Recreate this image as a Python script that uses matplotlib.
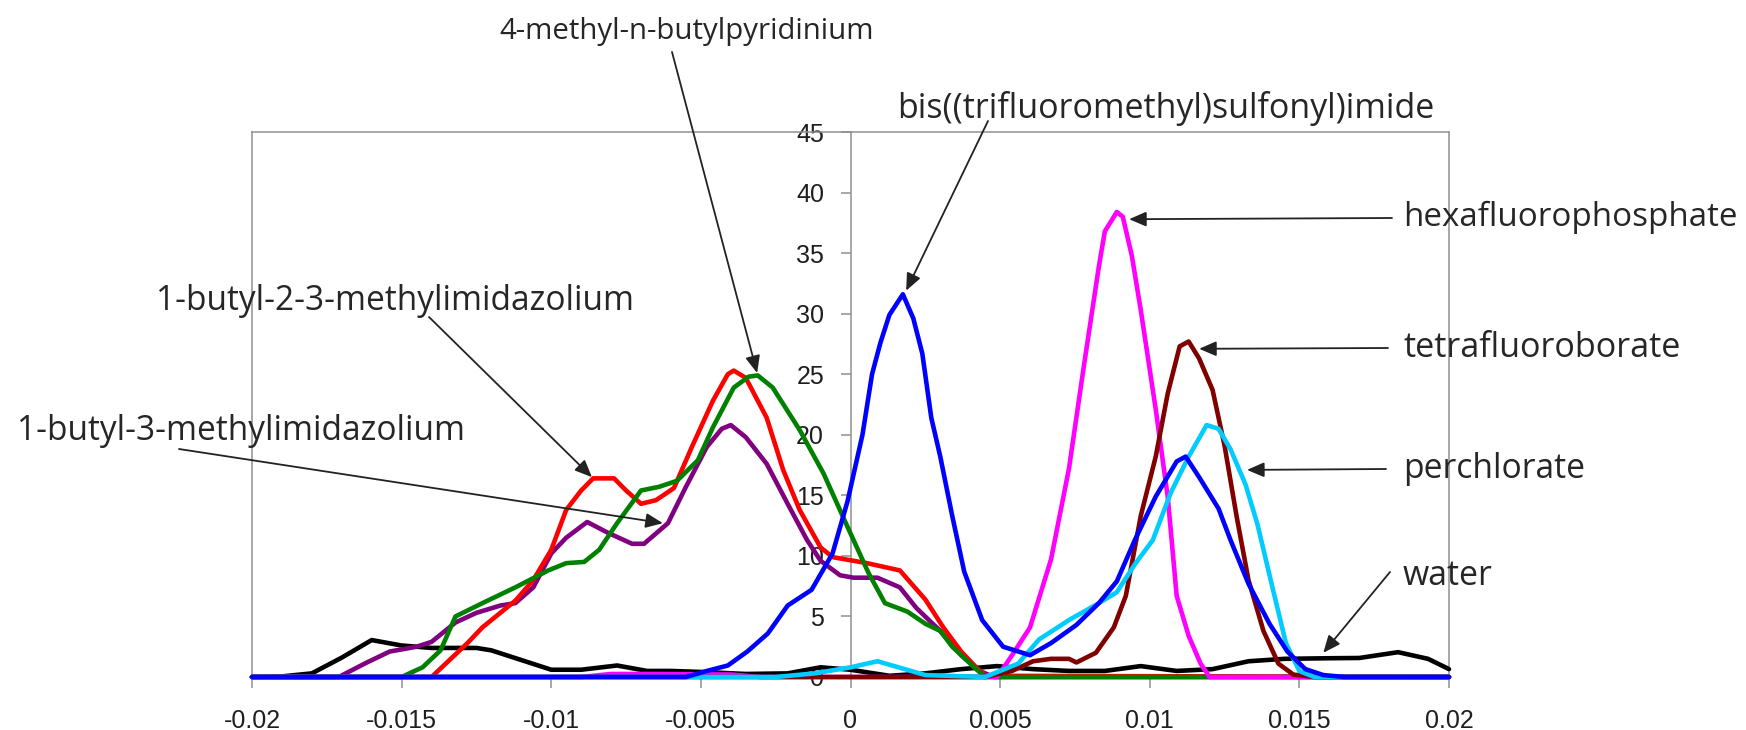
import matplotlib
matplotlib.use("Agg")
import matplotlib.pyplot as plt
from matplotlib.lines import Line2D

# ---------------- data ----------------
x_ticks = [-0.02, -0.015, -0.01, -0.005, 0, 0.005, 0.01, 0.015, 0.02]
x_tick_labels = ["-0.02", "-0.015", "-0.01", "-0.005", "0", "0.005", "0.01", "0.015", "0.02"]
y_ticks = [0, 5, 10, 15, 20, 25, 30, 35, 40, 45]
y_tick_labels = ["0", "5", "10", "15", "20", "25", "30", "35", "40", "45"]

water_x = [-0.02, -0.019, -0.018, -0.017, -0.016, -0.015, -0.014, -0.0125, -0.012, -0.011, -0.010,
           -0.009, -0.0078, -0.0068, -0.006, -0.0048, -0.0035, -0.0021, -0.001, 0.0, 0.0013, 0.0025,
           0.0037, 0.0049, 0.0061, 0.0073, 0.0085, 0.0097, 0.0109, 0.0121, 0.0133, 0.0145, 0.016,
           0.017, 0.0183, 0.0193, 0.02]
water_y = [0, 0.05, 0.3, 1.6, 3.05, 2.6, 2.4, 2.4, 2.2, 1.4, 0.6,
           0.6, 0.95, 0.5, 0.5, 0.4, 0.25, 0.3, 0.8, 0.6, 0.1, 0.3,
           0.65, 0.9, 0.65, 0.5, 0.5, 0.9, 0.5, 0.65, 1.3, 1.5, 1.55,
           1.57, 2.05, 1.5, 0.65]

bmim_x = [-0.02, -0.0171, -0.0162, -0.0154, -0.0145, -0.014, -0.0132, -0.0125, -0.0117, -0.0112,
          -0.0106, -0.0100, -0.0095, -0.0088, -0.0081, -0.0073, -0.0069, -0.0061, -0.0055, -0.0048,
          -0.0043, -0.0040, -0.0035, -0.0028, -0.0021, -0.00145, -0.0010, -0.00035, 0.0001, 0.0009,
          0.00165, 0.0022, 0.0030, 0.0037, 0.0043, 0.0048, 0.02]
bmim_y = [0, 0, 1.15, 2.1, 2.5, 2.9, 4.5, 5.3, 5.9, 6.1,
          7.4, 10.2, 11.5, 12.8, 11.9, 11.0, 11.0, 12.7, 15.7, 19.0,
          20.5, 20.8, 19.8, 17.6, 14.3, 11.3, 9.6, 8.4, 8.2, 8.2,
          7.4, 5.7, 3.8, 1.8, 0.5, 0, 0]

bmmim_x = [-0.02, -0.0140, -0.0134, -0.0128, -0.0123, -0.0112, -0.0106, -0.0100, -0.0095, -0.0090,
           -0.0086, -0.0079, -0.0075, -0.0070, -0.0065, -0.0059, -0.0053, -0.0046, -0.0041, -0.0039,
           -0.0035, -0.0028, -0.00225, -0.0017, -0.0010, -0.0006, 0.00055, 0.00165, 0.0025, 0.0031,
           0.0037, 0.0042, 0.0045, 0.02]
bmmim_y = [0, 0, 1.4, 2.8, 4.1, 6.3, 8.0, 10.5, 13.8, 15.4,
           16.4, 16.4, 15.4, 14.3, 14.6, 15.6, 19.0, 22.8, 25.0, 25.3,
           24.7, 21.4, 17.1, 13.8, 10.7, 9.9, 9.4, 8.8, 6.4, 4.1,
           2.1, 0.8, 0.1, 0]

pyr_x = [-0.02, -0.0150, -0.0143, -0.0137, -0.0132, -0.0123, -0.0112, -0.0101, -0.0095, -0.0089,
         -0.0084, -0.0078, -0.0070, -0.0064, -0.0058, -0.0051, -0.0046, -0.0039, -0.0034, -0.0031,
         -0.0026, -0.0017, -0.0009, -0.0001, 0.0006, 0.00115, 0.0019, 0.0025, 0.0030, 0.0034,
         0.0042, 0.0045, 0.02]
pyr_y = [0, 0, 0.8, 2.2, 5.0, 6.1, 7.4, 8.8, 9.4, 9.5,
         10.5, 12.7, 15.4, 15.7, 16.2, 17.9, 20.6, 23.9, 24.8, 24.9,
         23.9, 20.4, 16.8, 12.4, 8.6, 6.1, 5.4, 4.4, 3.8, 2.5,
         0.65, 0, 0]

pf6_x = [-0.02, -0.009, -0.008, -0.0065, -0.004, -0.003, 0.0049, 0.0054, 0.0060, 0.0067, 0.0073,
         0.0078, 0.0083, 0.0085, 0.0089, 0.0091, 0.0094, 0.0097, 0.0102, 0.0106, 0.0109,
         0.0113, 0.0117, 0.0120, 0.02]
pf6_y = [0, 0, 0.25, 0.25, 0.2, 0, 0, 1.8, 4.1, 9.7, 17.2,
         25.7, 33.9, 36.8, 38.4, 38.0, 34.8, 30.3, 22.1, 14.9, 6.7,
         3.4, 1.1, 0, 0]

bf4_x = [-0.02, 0.0045, 0.0054, 0.0061, 0.0067, 0.0073, 0.00755, 0.0082, 0.0088, 0.0092, 0.0097,
         0.0102, 0.0106, 0.0110, 0.0113, 0.01165, 0.0121, 0.0125, 0.0129, 0.0133, 0.0138,
         0.0143, 0.0148, 0.0155, 0.02]
bf4_y = [0, 0, 0.5, 1.3, 1.5, 1.5, 1.2, 2.0, 4.1, 6.7, 13.3,
         18.2, 23.4, 27.3, 27.7, 26.3, 23.7, 19.1, 13.3, 8.0, 3.8,
         1.1, 0.2, 0, 0]

clo4_x = [-0.02, -0.0025, -0.0012, 0.0, 0.0009, 0.0016, 0.0025, 0.0045, 0.0056, 0.0063, 0.0073,
          0.0083, 0.0089, 0.0095, 0.0101, 0.0107, 0.0113, 0.0119, 0.0123, 0.0127, 0.0132,
          0.0136, 0.0141, 0.01455, 0.0150, 0.0155, 0.02]
clo4_y = [0, 0, 0.3, 0.8, 1.3, 0.8, 0.16, 0, 1.1, 3.1, 4.7,
          6.1, 7.0, 9.3, 11.3, 15.2, 18.2, 20.8, 20.5, 18.8, 15.9,
          12.6, 7.4, 2.8, 0.5, 0, 0]

tfsi_x = [-0.02, -0.0055, -0.0048, -0.0041, -0.00345, -0.00276, -0.0021, -0.0013, -0.0006, -0.0001,
          0.0004, 0.00072, 0.0010, 0.0013, 0.00175, 0.0021, 0.0024, 0.0027, 0.0030, 0.0034,
          0.0038, 0.0044, 0.0051, 0.0060, 0.0067, 0.00755, 0.0083, 0.0089, 0.0095, 0.0102,
          0.0109, 0.0112, 0.01165, 0.0123, 0.0127, 0.0133, 0.0140, 0.0146, 0.0152, 0.0158,
          0.0165, 0.02]
tfsi_y = [0, 0, 0.5, 0.95, 2.1, 3.6, 5.9, 7.2, 10.2, 14.5,
          20.0, 25.0, 27.6, 29.9, 31.6, 29.6, 26.7, 21.4, 18.2, 13.3,
          8.7, 4.7, 2.5, 1.8, 2.8, 4.3, 6.1, 7.9, 11.3, 14.9,
          17.8, 18.2, 16.5, 13.9, 11.3, 7.7, 4.4, 2.1, 0.65, 0.16,
          0, 0]

# label text, text position (left x, centre y in image px), target width px,
# arrow tail (image px), arrow tip (data)
labels = ["4-methyl-n-butylpyridinium", "bis((trifluoromethyl)sulfonyl)imide",
          "1-butyl-2-3-methylimidazolium", "1-butyl-3-methylimidazolium",
          "hexafluorophosphate", "tetrafluoroborate", "perchlorate", "water"]
label_pos = [(499, 32), (897, 108), (156, 301), (17, 431),
             (1403, 217), (1403, 348), (1403, 469), (1403, 576)]
label_width = [374, 537, 479, 448, 335, 277, 182, 90]
arrow_tail = [(672, 52), (988, 121), (429, 317), (179, 449),
              (1392, 218), (1388, 348), (1386, 469), (1390, 572)]
arrow_tip = [(-0.00312, 25.1), (0.00186, 31.9), (-0.00864, 16.5), (-0.00627, 12.7),
             (0.00931, 37.8), (0.01165, 27.1), (0.01325, 17.1), (0.0158, 2.0)]

# ---------------- figure ----------------
W, H = 1746, 730
L, R, T, B = 252, 1449, 132, 677
fig = plt.figure(figsize=(W / 100, H / 100), dpi=100)
fig.patch.set_facecolor("white")
ax = fig.add_axes([L / W, 1 - B / H, (R - L) / W, (B - T) / H])
ax.set_xlim(-0.02, 0.02)
ax.set_ylim(0, 45)

frame = "#8f8f8f"
for s in ["top", "right", "bottom"]:
    ax.spines[s].set_color(frame)
    ax.spines[s].set_linewidth(1.1)
ax.spines["left"].set_position(("data", 0))
ax.spines["left"].set_color(frame)
ax.spines["left"].set_linewidth(1.1)
ax.add_line(Line2D([0, 0], [0, 1], transform=ax.transAxes, color=frame, lw=1.1, clip_on=False))

ax.set_xticks(x_ticks)
ax.set_xticklabels(x_tick_labels)
ax.set_yticks(y_ticks)
ax.set_yticklabels(y_tick_labels)
ax.tick_params(axis="x", direction="out", length=8, width=1.1, color=frame, pad=15,
               labelsize=18, labelcolor="#1e1e1e")
ax.tick_params(axis="y", direction="out", length=7, width=1.1, color=frame, pad=12,
               labelsize=18, labelcolor="#1e1e1e")
for t in ax.get_xticklabels() + ax.get_yticklabels():
    t.set_fontfamily("Liberation Sans")

series = [
    (water_x, water_y, "#000000"),
    (bmim_x, bmim_y, "#800080"),
    (bmmim_x, bmmim_y, "#ff0000"),
    (pyr_x, pyr_y, "#008000"),
    (pf6_x, pf6_y, "#ff00ff"),
    (bf4_x, bf4_y, "#800000"),
    (clo4_x, clo4_y, "#00ccff"),
    (tfsi_x, tfsi_y, "#0000ff"),
]
for xs, ys, c in series:
    ax.plot(xs, ys, color=c, lw=3.3, solid_joinstyle="round", solid_capstyle="round",
            clip_on=False, zorder=3)

texts = []
for s, (px, py) in zip(labels, label_pos):
    t = fig.text(px / W, 1 - py / H, s, ha="left", va="center", fontsize=20,
                 fontfamily="Open Sans", color="#262626")
    texts.append(t)

for (tx, ty), (dx, dy) in zip(arrow_tail, arrow_tip):
    ax.annotate("", xy=(dx, dy), xycoords="data", xytext=(tx, H - ty),
                textcoords="figure pixels", annotation_clip=False,
                arrowprops=dict(arrowstyle="-|>,head_length=0.65,head_width=0.28",
                                mutation_scale=16, color="#222222", lw=1.3,
                                shrinkA=0, shrinkB=0), zorder=5)

# fit label sizes to the measured widths
for _ in range(2):
    fig.canvas.draw()
    r = fig.canvas.get_renderer()
    for t, w in zip(texts, label_width):
        cur = t.get_window_extent(r).width
        t.set_fontsize(t.get_fontsize() * w / cur)

fig.savefig("out.png", dpi=100, facecolor="white")
